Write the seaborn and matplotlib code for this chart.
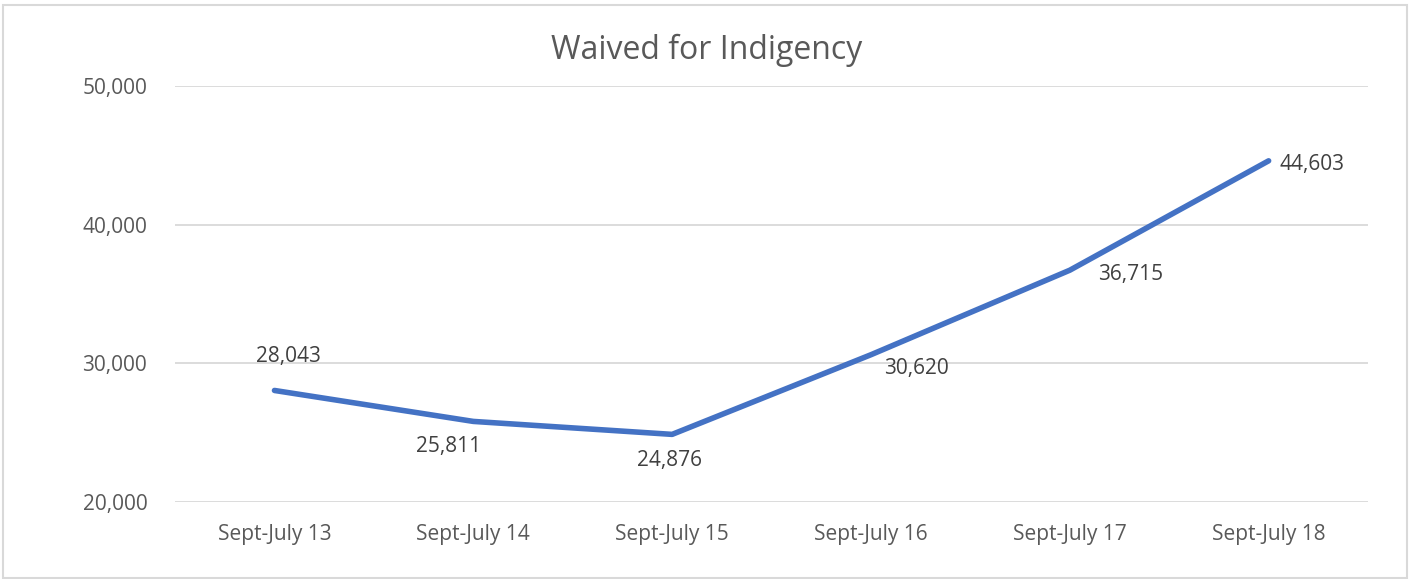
import matplotlib
matplotlib.use("Agg")
import matplotlib.pyplot as plt
import matplotlib.ticker as mticker
import seaborn as sns
import pandas as pd

# Data
periods = ["Sept-July 13", "Sept-July 14", "Sept-July 15",
           "Sept-July 16", "Sept-July 17", "Sept-July 18"]
waived = [28043, 25811, 24876, 30620, 36715, 44603]
y_ticks = [20000, 30000, 40000, 50000]

df = pd.DataFrame({"period": periods, "waived": waived})

sns.set_theme(style="white")
plt.rcParams["font.family"] = ["Open Sans", "DejaVu Sans"]

gray = "#595959"
fig = plt.figure(figsize=(14.14, 5.79), dpi=100)
ax = fig.add_axes([0.1238, 0.133, 0.8437, 0.7185])

sns.lineplot(data=df, x="period", y="waived", ax=ax, color="#4472C4",
             linewidth=4, solid_capstyle="round", solid_joinstyle="round", sort=False)

ax.set_xlim(-0.5, 5.5)
ax.set_ylim(20000, 50000)
ax.set_yticks(y_ticks)
ax.yaxis.set_major_formatter(mticker.FuncFormatter(lambda v, p: f"{int(v):,}"))
ax.grid(axis="y", color="#d9d9d9", linewidth=1.3)
ax.set_axisbelow(True)
for s in ax.spines.values():
    s.set_visible(False)
ax.tick_params(axis="both", length=0, labelsize=15, colors=gray)
ax.tick_params(axis="x", pad=16)
ax.tick_params(axis="y", pad=20)
ax.set_xlabel("")
ax.set_ylabel("")

# data labels (offsets in points)
offsets = [(10, 24.5), (-18, -18), (-2, -19), (33, -10), (44, -3), (31, -3)]
for i, (v, off) in enumerate(zip(waived, offsets)):
    ax.annotate(f"{v:,}", (i, v), xytext=off, textcoords="offset points",
                ha="center", va="center", fontsize=15, color="#404040")

fig.text(0.5, 0.913, "Waived for Indigency", ha="center", va="center",
         fontsize=23, color=gray)

# outer border
fig.patches.append(plt.Rectangle((0.002, 0.002), 0.993, 0.99, transform=fig.transFigure,
                                 fill=False, edgecolor="#d9d9d9", linewidth=1.5))

fig.savefig("out.png", dpi=100)
